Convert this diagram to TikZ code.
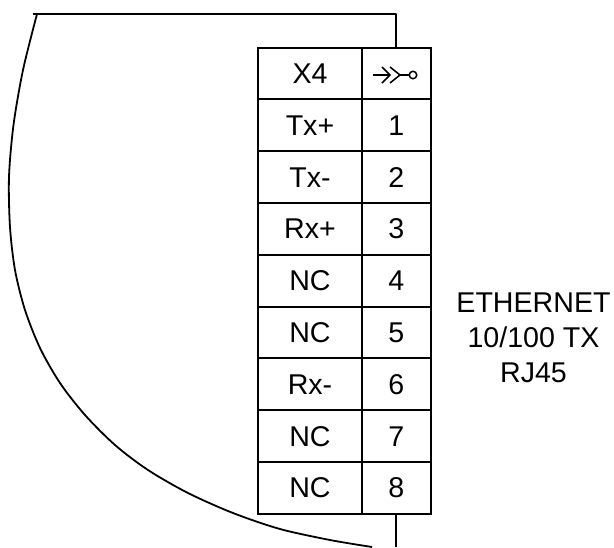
\documentclass[tikz,border=0pt]{standalone}
\usepackage{fontspec}
\setmainfont{Liberation Sans}
\begin{document}
\begin{tikzpicture}[x=1pt,y=-1pt,
  wire/.style={black,line width=1.8pt,line join=round},
  cellbox/.style={draw=black,line width=2pt,inner sep=0pt,outer sep=0pt,anchor=north west,text height=20pt,text depth=0pt,font=\fontsize{28.6}{32}\selectfont},
  namecell/.style={cellbox,minimum width=104pt},
  pincell/.style={cellbox,minimum width=68.5pt},
  lbl/.style={font=\fontsize{28.6}{35}\selectfont,align=center,inner sep=0pt}]
\useasboundingbox (0,0) rectangle (614,547);
\clip (0,0) rectangle (614,547);
\foreach \n/\a/\b [count=\i from 0] in {a/X4/{},b/Tx+/1,c/Tx-/2,d/Rx+/3,e/NC/4,f/NC/5,g/Rx-/6,h/NC/7,i/NC/8}{
  \pgfmathsetmacro{\yy}{47.5+\i*51.8}
  \node[namecell,minimum height=51.8pt] (n\n) at (258,\yy) {\a};
  \node[pincell,minimum height=51.8pt] (p\n) at (362,\yy) {\b};
}
% connector symbol
\coordinate (s1) at (373,75);
\coordinate (s2) at (390,75);
\coordinate (s3) at (400,75);
\coordinate (s4) at (409.5,75);
\draw[line width=1.5pt] (s1) -- (s2) (s3) -- (s4);
\draw[line width=1.5pt] (382,67) -- (s2) -- (382,83);
\draw[line width=1.5pt] (390,67) -- (s3) -- (390,83);
\node[circle,draw,line width=1.5pt,minimum size=7.5pt,inner sep=0pt] (ring) at (413,75) {};
% wires
\coordinate (topend) at (33,14);
\coordinate (topcorner) at (396,14);
\coordinate (curvestart) at (37,14);
\coordinate (botend) at (396,547);
\draw[wire] (topend) -- (topcorner) -- (topcorner |- pa.north);
\draw[wire] (botend |- pi.south) -- (botend);
\draw[wire] plot[smooth,tension=0.5] coordinates {(curvestart) (23,70) (13.5,125) (9,177) (10,227) (15,270) (25,310) (40,348) (60,383) (85,415) (115,445) (148,470) (188,493) (233,513) (280,529) (330,540) (372,547)};
\node[lbl] (eth) at (533.5,338) {ETHERNET\\10/100 TX\\RJ45};
\end{tikzpicture}
\end{document}
